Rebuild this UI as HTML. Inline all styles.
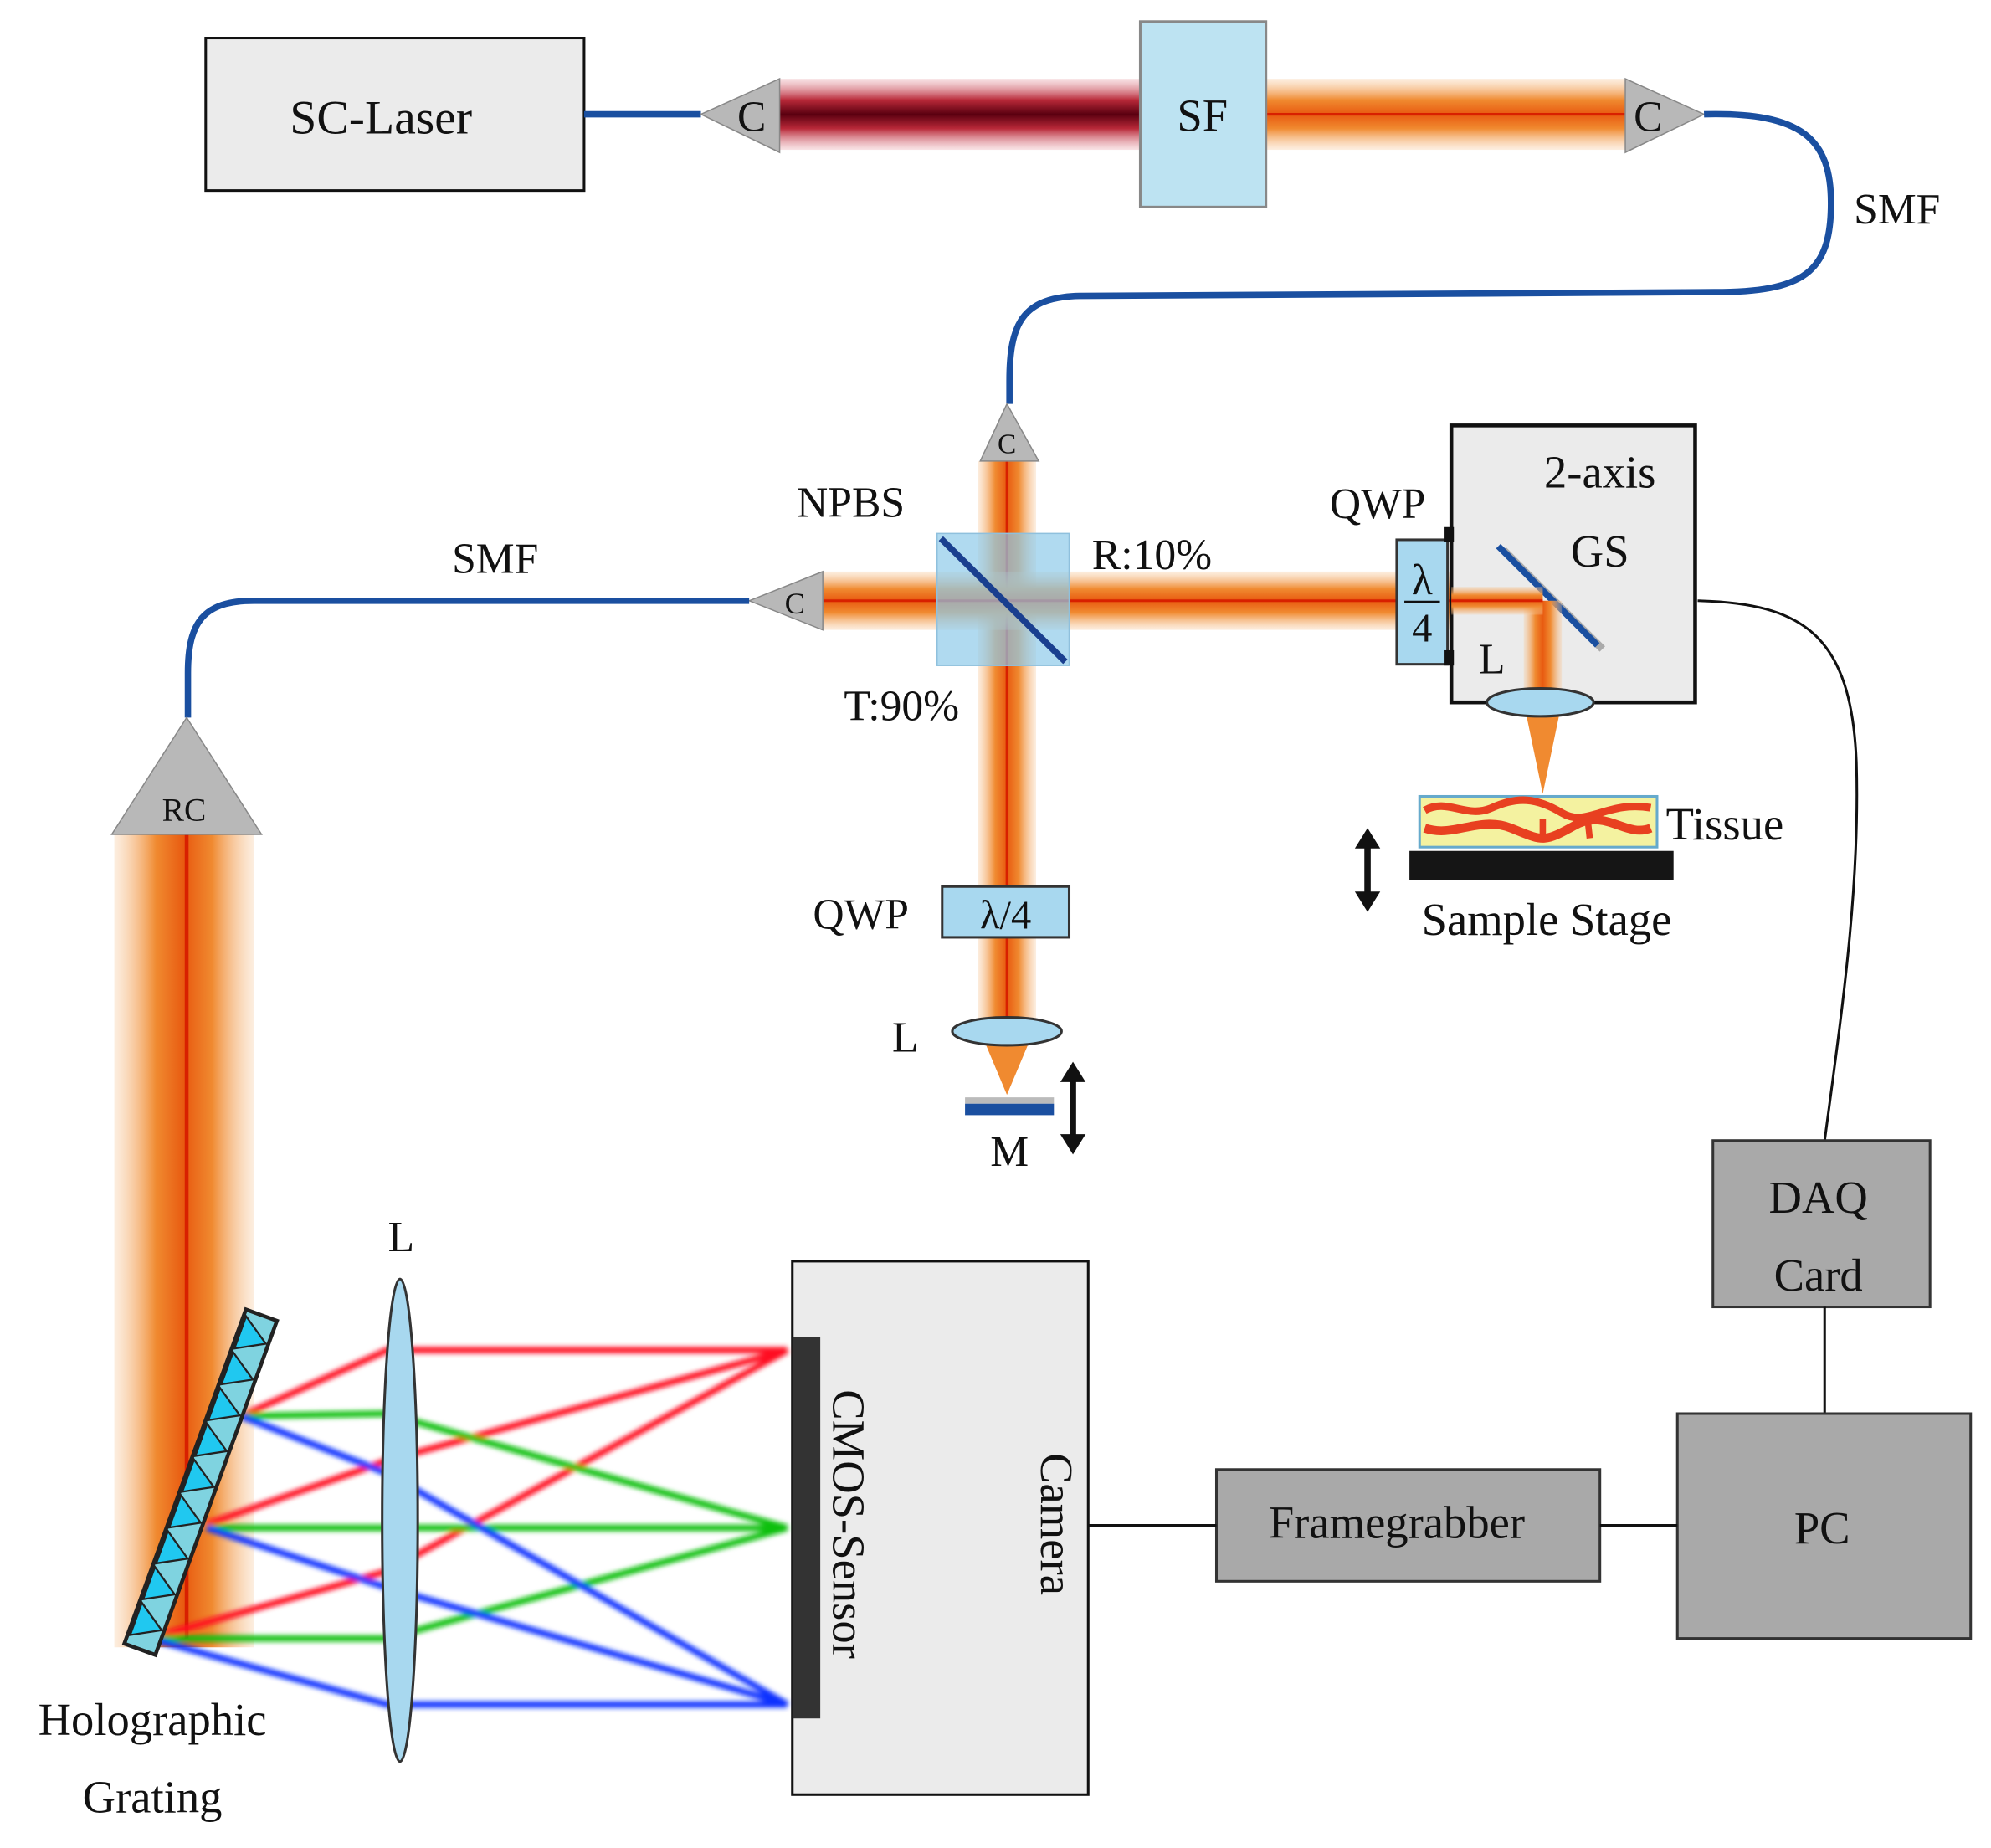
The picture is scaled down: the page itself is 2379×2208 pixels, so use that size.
<!DOCTYPE html>
<html><head><meta charset="utf-8"><style>html,body{margin:0;padding:0;background:#fff}svg{display:block}text{font-family:"Liberation Serif",serif;fill:#111}</style></head><body>
<svg width="2379" height="2208" viewBox="0 0 1568 1455" preserveAspectRatio="none" xmlns="http://www.w3.org/2000/svg">
<defs>
<filter id="b2" x="-20%" y="-20%" width="140%" height="140%"><feGaussianBlur stdDeviation="2"/></filter>
<linearGradient id="oh" x1="0" y1="0" x2="0" y2="1"><stop offset="0" stop-color="#f7c89a" stop-opacity="0.3"/><stop offset="0.3" stop-color="#f08a30"/><stop offset="0.5" stop-color="#e85a10"/><stop offset="0.7" stop-color="#f08a30"/><stop offset="1" stop-color="#f7c89a" stop-opacity="0.3"/></linearGradient>
<linearGradient id="ov" x1="0" y1="0" x2="1" y2="0"><stop offset="0" stop-color="#f7c89a" stop-opacity="0.3"/><stop offset="0.3" stop-color="#f08a30"/><stop offset="0.5" stop-color="#e85a10"/><stop offset="0.7" stop-color="#f08a30"/><stop offset="1" stop-color="#f7c89a" stop-opacity="0.3"/></linearGradient>
<linearGradient id="rh" x1="0" y1="0" x2="0" y2="1"><stop offset="0" stop-color="#e8a0a8" stop-opacity="0.3"/><stop offset="0.3" stop-color="#b82838"/><stop offset="0.5" stop-color="#5a0010"/><stop offset="0.7" stop-color="#b82838"/><stop offset="1" stop-color="#e8a0a8" stop-opacity="0.3"/></linearGradient>
</defs>

<rect x="614" y="62" width="284" height="56" fill="url(#rh)"/>
<rect x="997" y="62" width="283" height="56" fill="url(#oh)"/>
<line x1="997" y1="90" x2="1280" y2="90" stroke="#d82000" stroke-width="2"/>
<rect x="770" y="363" width="46" height="450" fill="url(#ov)"/>
<line x1="793" y1="363" x2="793" y2="812" stroke="#d82000" stroke-width="2"/>
<polygon points="772,812 814,812 793,862" fill="#f08a30"/>
<rect x="648" y="450" width="567" height="46" fill="url(#oh)"/>
<line x1="648" y1="473" x2="1215" y2="473" stroke="#d82000" stroke-width="2"/>
<rect x="90" y="657" width="110" height="640" fill="url(#ov)"/>
<line x1="147" y1="657" x2="147" y2="1290" stroke="#d82000" stroke-width="3"/>

<rect x="162" y="30" width="298" height="120" fill="#ebebeb" stroke="#111" stroke-width="2"/>
<text x="300" y="105" font-size="38" text-anchor="middle">SC-Laser</text>
<line x1="460" y1="90" x2="552" y2="90" stroke="#1a4fa0" stroke-width="5"/>
<polygon points="552,90 614,62 614,120" fill="#b8b8b8" stroke="#888"/>
<text x="592" y="103" font-size="34" text-anchor="middle">C</text>
<rect x="898" y="17" width="99" height="146" fill="#bde3f2" stroke="#888" stroke-width="2"/>
<text x="947" y="103" font-size="36" text-anchor="middle">SF</text>
<polygon points="1280,62 1280,120 1342,90" fill="#b8b8b8" stroke="#888"/>
<text x="1298" y="103" font-size="34" text-anchor="middle">C</text>
<path d="M1342,90 C1420,88 1442,110 1442,160 C1442,215 1420,230 1350,230 L850,233 C805,234 795,255 795,300 L795,318" fill="none" stroke="#1a4fa0" stroke-width="5"/>
<text x="1460" y="176" font-size="34">SMF</text>

<polygon points="793,318 772,363 818,363" fill="#b8b8b8" stroke="#888"/>
<text x="793" y="357" font-size="22" text-anchor="middle">C</text>

<rect x="738" y="420" width="104" height="104" fill="#8fcbea" fill-opacity="0.7" stroke="#8fc0dd"/>
<line x1="741" y1="424" x2="839" y2="521" stroke="#1a3f8f" stroke-width="5"/>
<text x="670" y="407" font-size="34" text-anchor="middle">NPBS</text>
<text x="860" y="448" font-size="34">R:10%</text>
<text x="710" y="567" font-size="34" text-anchor="middle">T:90%</text>

<polygon points="590,473 648,450 648,496" fill="#b8b8b8" stroke="#888"/>
<text x="626" y="483" font-size="24" text-anchor="middle">C</text>
<path d="M590,473 L200,473 C160,473 148,490 148,530 L148,565" fill="none" stroke="#1a4fa0" stroke-width="5"/>
<text x="390" y="451" font-size="34" text-anchor="middle">SMF</text>
<polygon points="147,565 88,657 206,657" fill="#b8b8b8" stroke="#888"/>
<text x="145" y="646" font-size="26" text-anchor="middle">RC</text>

<rect x="1143" y="335" width="192" height="218" fill="#ebebeb" stroke="#111" stroke-width="3"/>
<line x1="1184" y1="433" x2="1262" y2="511" stroke="#aaa" stroke-width="6"/>
<line x1="1180" y1="430" x2="1258" y2="508" stroke="#1a4fa0" stroke-width="5"/>
<rect x="1200" y="473" width="30" height="80" fill="url(#ov)"/>
<rect x="1143" y="462" width="72" height="22" fill="url(#oh)"/>
<line x1="1143" y1="473" x2="1215" y2="473" stroke="#d82000" stroke-width="2"/>
<polygon points="1200,553 1230,553 1215,625" fill="#f08a30"/>
<text x="1260" y="384" font-size="36" text-anchor="middle">2-axis</text>
<text x="1260" y="446" font-size="36" text-anchor="middle">GS</text>
<rect x="1100" y="425" width="40" height="98" fill="#a8d8ef" stroke="#333" stroke-width="2"/>
<rect x="1137" y="415" width="8" height="12" fill="#111"/>
<rect x="1137" y="512" width="8" height="12" fill="#111"/>
<text x="1120" y="468" font-size="34" text-anchor="middle">λ</text>
<line x1="1106" y1="474" x2="1134" y2="474" stroke="#111" stroke-width="2"/>
<text x="1120" y="505" font-size="32" text-anchor="middle">4</text>
<text x="1085" y="408" font-size="34" text-anchor="middle">QWP</text>
<ellipse cx="1213" cy="553" rx="42" ry="11" fill="#a8d8ef" stroke="#333" stroke-width="2"/>
<text x="1175" y="530" font-size="34" text-anchor="middle">L</text>

<rect x="1118" y="627" width="187" height="40" fill="#f4f2a0" stroke="#6ac" stroke-width="2"/>
<path d="M1122,638 C1140,628 1155,645 1175,636 S1210,628 1230,640 S1265,630 1300,636" fill="none" stroke="#e84020" stroke-width="6"/>
<path d="M1122,652 C1145,660 1165,642 1190,652 S1215,664 1240,650 S1280,660 1300,652" fill="none" stroke="#e84020" stroke-width="7"/>
<path d="M1215,645 L1215,662 M1250,642 L1252,660" stroke="#e84020" stroke-width="5"/>
<rect x="1110" y="670" width="208" height="23" fill="#151515"/>
<text x="1312" y="661" font-size="36">Tissue</text>
<text x="1218" y="736" font-size="36" text-anchor="middle">Sample Stage</text>
<line x1="1077" y1="665" x2="1077" y2="705" stroke="#111" stroke-width="5"/>
<polygon points="1067,668 1087,668 1077,652" fill="#111"/>
<polygon points="1067,702 1087,702 1077,718" fill="#111"/>

<rect x="742" y="698" width="100" height="40" fill="#a8d8ef" stroke="#333" stroke-width="2"/>
<text x="792" y="731" font-size="32" text-anchor="middle">λ/4</text>
<text x="678" y="731" font-size="34" text-anchor="middle">QWP</text>
<ellipse cx="793" cy="812" rx="43" ry="11" fill="#a8d8ef" stroke="#333" stroke-width="2"/>
<text x="713" y="828" font-size="34" text-anchor="middle">L</text>
<rect x="760" y="864" width="70" height="5" fill="#bbb"/>
<rect x="760" y="869" width="70" height="9" fill="#1a4fa0"/>
<text x="795" y="918" font-size="34" text-anchor="middle">M</text>
<line x1="845" y1="850" x2="845" y2="895" stroke="#111" stroke-width="5"/>
<polygon points="835,852 855,852 845,836" fill="#111"/>
<polygon points="835,893 855,893 845,909" fill="#111"/>

<path d="M1337,473 C1420,475 1458,500 1462,600 C1465,700 1450,800 1437,898" fill="none" stroke="#111" stroke-width="2"/>
<rect x="1349" y="898" width="171" height="131" fill="#a9a9a9" stroke="#333" stroke-width="2"/>
<text x="1432" y="955" font-size="36" text-anchor="middle">DAQ</text>
<text x="1432" y="1016" font-size="36" text-anchor="middle">Card</text>
<line x1="1437" y1="1029" x2="1437" y2="1113" stroke="#111" stroke-width="2"/>
<rect x="1321" y="1113" width="231" height="177" fill="#a9a9a9" stroke="#333" stroke-width="2"/>
<text x="1435" y="1215" font-size="36" text-anchor="middle">PC</text>
<rect x="958" y="1157" width="302" height="88" fill="#a9a9a9" stroke="#333" stroke-width="2"/>
<text x="1100" y="1211" font-size="36" text-anchor="middle">Framegrabber</text>
<line x1="857" y1="1201" x2="958" y2="1201" stroke="#111" stroke-width="2"/>
<line x1="1260" y1="1201" x2="1321" y2="1201" stroke="#111" stroke-width="2"/>

<rect x="624" y="993" width="233" height="420" fill="#ebebeb" stroke="#111" stroke-width="2"/>
<text transform="translate(656,1200) rotate(90)" font-size="36" text-anchor="middle">CMOS-Sensor</text>
<text transform="translate(820,1200) rotate(90)" font-size="36" text-anchor="middle">Camera</text>

<g filter="url(#b2)" fill="none" stroke-width="5">
<polyline points="190,1115 305,1063 620,1063" stroke="#ff1020"/>
<polyline points="163,1200 305,1150 620,1063" stroke="#ff1020"/>
<polyline points="118,1290 305,1237 620,1063" stroke="#ff1020"/>
<polyline points="190,1115 305,1113 620,1203" stroke="#10c010"/>
<polyline points="163,1203 305,1203 620,1203" stroke="#10c010"/>
<polyline points="118,1290 305,1290 620,1203" stroke="#10c010"/>
<polyline points="190,1115 305,1160 620,1342" stroke="#1030ff"/>
<polyline points="163,1203 305,1250 620,1342" stroke="#1030ff"/>
<polyline points="118,1290 305,1342 620,1342" stroke="#1030ff"/>
</g>
<rect x="624" y="1053" width="22" height="300" fill="#333"/>
<ellipse cx="315" cy="1197" rx="14" ry="190" fill="#a8d8ef" stroke="#333" stroke-width="2"/>
<text x="316" y="985" font-size="34" text-anchor="middle">L</text>

<g transform="translate(158,1167) rotate(20)">
<rect x="-13" y="-140" width="26" height="280" fill="#7fd3e0" stroke="#222" stroke-width="3"/>
<g fill="#20c8f0" stroke="#222" stroke-width="1.5">
<polygon points="-11,-135 11,-120 -11,-108"/><polygon points="-11,-105 11,-90 -11,-78"/><polygon points="-11,-75 11,-60 -11,-48"/><polygon points="-11,-45 11,-30 -11,-18"/><polygon points="-11,-15 11,0 -11,12"/><polygon points="-11,15 11,30 -11,42"/><polygon points="-11,45 11,60 -11,72"/><polygon points="-11,75 11,90 -11,102"/><polygon points="-11,105 11,120 -11,132"/>
</g>
</g>
<text x="120" y="1366" font-size="36" text-anchor="middle">Holographic</text>
<text x="120" y="1427" font-size="36" text-anchor="middle">Grating</text>
</svg>
</body></html>
